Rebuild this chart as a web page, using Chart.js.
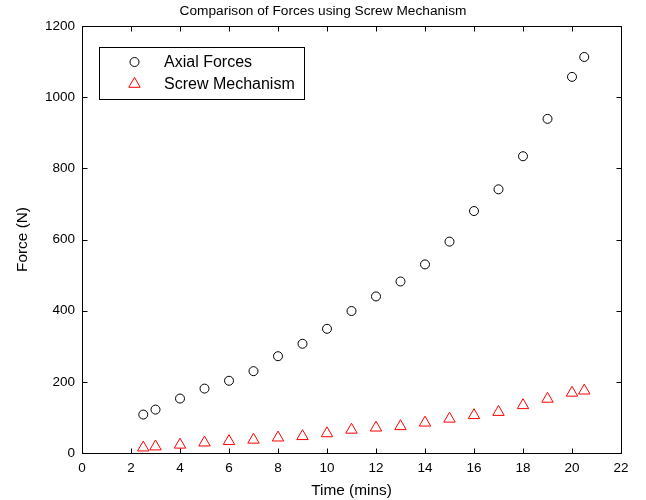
<!DOCTYPE html>
<html>
<head>
<meta charset="utf-8">
<script src="https://cdn.jsdelivr.net/npm/chart.js@4/dist/chart.umd.min.js"></script>
<style>
  html, body { margin: 0; padding: 0; background: #ffffff; }
  #wrap { width: 646px; height: 500px; }
</style>
</head>
<body>
<div id="wrap"><canvas id="c" width="646" height="500"></canvas></div>
<script>
// Measurement times (minutes)
const timeMins = [2.5, 3, 4, 5, 6, 7, 8, 9, 10, 11, 12, 13, 14, 15, 16, 17, 18, 19, 20, 20.5];
// Axial force at each time (N)
const axialForces = [108, 122, 153, 181, 203, 230, 272, 307, 349, 399, 440, 482, 530, 594, 680, 741, 834, 939, 1057, 1113];
// Force delivered through the screw mechanism (N)
const screwForces = [15, 18, 23, 29, 33, 37, 43, 47, 55, 65, 71, 75, 85, 96, 106, 115, 134, 152, 169, 175];

const seriesLabels = ['Axial Forces', 'Screw Mechanism'];
const xTickStep = 2, xMin = 0, xMax = 22;
const yTickStep = 200, yMin = 0, yMax = 1200;

const FONT = '"Liberation Sans", Arial, Helvetica, sans-serif';
const TICK_FS = 13.5;
const TITLE_FS = 13.7;
const AXIS_FS = 15.4;
const LEGEND_FS = 16;

function toPoints(xs, ys) {
  return xs.map((x, i) => ({ x: x, y: ys[i] }));
}

// Boxed axes with inward ticks on all four sides
const boxAxes = {
  id: 'boxAxes',
  afterDatasetsDraw(chart) {
    const { ctx, chartArea: a, scales } = chart;
    const L = Math.round(a.left) + 0.5, R = Math.round(a.right) + 0.5;
    const T = Math.round(a.top) + 0.5, B = Math.round(a.bottom) + 0.5;
    const tl = 5;
    ctx.save();
    ctx.strokeStyle = '#000';
    ctx.lineWidth = 1;
    ctx.beginPath();
    scales.x.ticks.forEach(t => {
      const px = Math.round(scales.x.getPixelForValue(t.value)) + 0.5;
      ctx.moveTo(px, B); ctx.lineTo(px, B - tl);
      ctx.moveTo(px, T); ctx.lineTo(px, T + tl);
    });
    scales.y.ticks.forEach(t => {
      const py = Math.round(scales.y.getPixelForValue(t.value)) + 0.5;
      ctx.moveTo(L, py); ctx.lineTo(L + tl, py);
      ctx.moveTo(R, py); ctx.lineTo(R - tl, py);
    });
    ctx.stroke();
    ctx.strokeRect(L, T, R - L, B - T);
    ctx.restore();
  }
};

// Legend box placed inside the plot area, upper left
const boxedLegend = {
  id: 'boxedLegend',
  afterDraw(chart) {
    const { ctx, chartArea: a } = chart;
    const x0 = a.left + 17.5, y0 = a.top + 21.5, w = 205, h = 52;
    ctx.save();
    ctx.fillStyle = '#fff';
    ctx.fillRect(x0, y0, w, h);
    ctx.strokeStyle = '#000';
    ctx.lineWidth = 1;
    ctx.strokeRect(x0, y0, w, h);
    ctx.font = LEGEND_FS + 'px ' + FONT;
    ctx.textBaseline = 'middle';
    ctx.textAlign = 'left';
    chart.data.datasets.forEach((ds, i) => {
      const cy = y0 + 14.5 + i * 22;
      const cx = x0 + 35;
      ctx.fillStyle = 'rgba(0,0,0,0)';
      ctx.strokeStyle = ds.borderColor;
      ctx.lineWidth = ds.borderWidth;
      Chart.helpers.drawPoint(ctx, {
        pointStyle: ds.pointStyle,
        radius: ds.pointRadius,
        borderWidth: ds.borderWidth,
        rotation: 0
      }, cx, cy);
      ctx.fillStyle = '#000';
      ctx.fillText(ds.label, x0 + 64.5, cy + 1);
    });
    ctx.restore();
  }
};

new Chart(document.getElementById('c'), {
  type: 'scatter',
  data: {
    datasets: [
      {
        label: seriesLabels[0],
        data: toPoints(timeMins, axialForces),
        pointStyle: 'circle',
        pointRadius: 4.5,
        borderWidth: 1,
        borderColor: '#000000',
        backgroundColor: 'rgba(0,0,0,0)',
        showLine: false
      },
      {
        label: seriesLabels[1],
        data: toPoints(timeMins, screwForces),
        pointStyle: 'triangle',
        pointRadius: 6.6,
        borderWidth: 1,
        borderColor: '#ff0000',
        backgroundColor: 'rgba(0,0,0,0)',
        showLine: false
      }
    ]
  },
  options: {
    responsive: false,
    animation: false,
    events: [],
    layout: { padding: { top: 0, right: 25, bottom: 0, left: 25 } },
    plugins: {
      legend: { display: false },
      tooltip: { enabled: false },
      title: {
        display: true,
        text: 'Comparison of Forces using Screw Mechanism',
        color: '#000',
        font: { family: FONT, size: TITLE_FS, weight: 'normal', lineHeight: 1.2 },
        padding: { top: 3, bottom: 26 - 3 - TITLE_FS * 1.2 }
      }
    },
    scales: {
      x: {
        type: 'linear',
        min: xMin, max: xMax,
        grid: { display: false, drawTicks: false },
        border: { display: false },
        ticks: {
          stepSize: xTickStep,
          color: '#000',
          padding: 7,
          maxRotation: 0,
          font: { family: FONT, size: TICK_FS },
          callback: v => String(v)
        },
        title: {
          display: true,
          text: 'Time (mins)',
          color: '#000',
          font: { family: FONT, size: AXIS_FS, lineHeight: 1.2 },
          padding: { top: 0, bottom: 0.3 }
        },
        afterFit(scale) { scale.height = 47; }
      },
      y: {
        type: 'linear',
        min: yMin, max: yMax,
        grid: { display: false, drawTicks: false },
        border: { display: false },
        ticks: {
          stepSize: yTickStep,
          color: '#000',
          padding: 7,
          font: { family: FONT, size: TICK_FS },
          callback: v => String(v)
        },
        title: {
          display: true,
          text: 'Force (N)',
          color: '#000',
          font: { family: FONT, size: AXIS_FS, lineHeight: 1.2 },
          padding: { top: 22.8 - 25 - AXIS_FS * 0.6, bottom: 0 }
        },
        afterFit(scale) { scale.width = 57; }
      }
    }
  },
  plugins: [boxAxes, boxedLegend]
});
</script>
</body>
</html>
